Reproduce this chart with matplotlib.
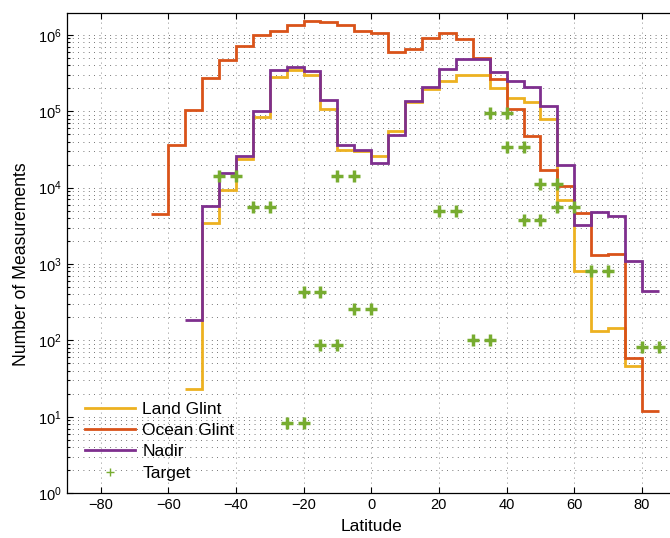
import matplotlib
matplotlib.use('Agg')
import numpy as np
from matplotlib import pyplot as plt
from matplotlib.lines import Line2D

# bin width of the latitude histogram (degrees)
bin_width = 5

# Ocean Glint: bins starting at -65
ocean_start = -65
ocean_counts = [4.5e3, 3.6e4, 1.05e5, 2.7e5, 4.6e5, 7.1e5, 9.8e5, 1.13e6, 1.35e6, 1.5e6,
                1.45e6, 1.32e6, 1.11e6, 1.04e6, 5.9e5, 6.5e5, 9.1e5, 1.04e6, 8.7e5, 5.0e5,
                2.6e5, 1.08e5, 4.7e4, 1.7e4, 1.05e4, 4.7e3, 1.3e3, 1.35e3, 59, 12]

# Land Glint: bins starting at -55
land_start = -55
land_counts = [23, 3.4e3, 9.4e3, 2.4e4, 8.5e4, 2.8e5, 3.5e5, 3.0e5, 1.08e5, 3.1e4,
               3.05e4, 2.6e4, 5.5e4, 1.3e5, 1.95e5, 2.5e5, 2.95e5, 3.0e5, 2.0e5, 1.5e5,
               1.3e5, 7.9e4, 6.9e3, 800, 134, 144, 46]

# Nadir: bins starting at -55
nadir_start = -55
nadir_counts = [185, 5.8e3, 1.55e4, 2.6e4, 1.0e5, 3.45e5, 3.8e5, 3.4e5, 1.4e5, 3.6e4,
                3.1e4, 2.1e4, 4.8e4, 1.35e5, 2.1e5, 3.6e5, 4.8e5, 4.8e5, 3.25e5, 2.5e5,
                2.1e5, 1.15e5, 2.0e4, 3.2e3, 4.8e3, 4.2e3, 1.1e3, 445]

# Target: non-empty bins only (bin start latitude, count)
target_lat = [-45, -35, -25, -20, -15, -10, -5, 20, 30, 35, 40, 45, 50, 55, 65, 80]
target_counts = [1.4e4, 5.5e3, 8.3, 435, 87, 1.43e4, 260, 5.0e3, 102, 9.4e4,
                 3.4e4, 3.8e3, 1.1e4, 5.6e3, 800, 83]

x_ticks = [-80, -60, -40, -20, 0, 20, 40, 60, 80]

c_land = '#EDB120'
c_ocean = '#D95319'
c_nadir = '#7E2F8E'
c_target = '#77AC30'


def edges(start, counts):
	return start + bin_width * np.arange(len(counts) + 1)


def main():
	plt.rcParams['font.family'] = ['Liberation Sans', 'DejaVu Sans']
	plt.rcParams['mathtext.default'] = 'regular'

	fig = plt.figure(figsize=(6.7, 5.38), dpi=100)
	ax = fig.add_axes([0.0996, 0.0831, 0.909, 0.892])

	lw = 2.0
	ax.stairs(land_counts, edges(land_start, land_counts), baseline=None, color=c_land, lw=lw, zorder=3)
	ax.stairs(ocean_counts, edges(ocean_start, ocean_counts), baseline=None, color=c_ocean, lw=lw, zorder=3)
	ax.stairs(nadir_counts, edges(nadir_start, nadir_counts), baseline=None, color=c_nadir, lw=lw, zorder=3)

	# target markers at both edges of each non-empty bin
	tx = np.concatenate([np.array(target_lat), np.array(target_lat) + bin_width])
	ty = np.concatenate([target_counts, target_counts])
	ax.plot(tx, ty, linestyle='none', marker='+', ms=8, mew=2.5, color=c_target, zorder=4)

	ax.set_yscale('log')
	ax.set_xlim(-90, 90)
	ax.set_ylim(1, 1.9e6)
	ax.set_xticks(x_ticks)
	ax.set_yticks([10.0 ** k for k in range(7)])

	ax.grid(True, which='major', axis='x', linestyle=(0, (1, 5)), color='0.4', lw=0.6)
	ax.grid(True, which='both', axis='y', linestyle=(0, (1, 6)), color='0.15', lw=0.55)
	ax.set_axisbelow(True)

	ax.tick_params(which='both', direction='in', top=True, right=True, labelsize=10.5, width=0.8)
	ax.tick_params(which='major', length=4)
	ax.tick_params(which='minor', length=2)
	ax.tick_params(axis='x', which='minor', bottom=False, top=False)
	for s in ax.spines.values():
		s.set_linewidth(0.9)

	ax.set_xlabel('Latitude', fontsize=12.5, labelpad=5)
	ax.set_ylabel('Number of Measurements', fontsize=12.7)
	ax.yaxis.set_label_coords(-0.061, 0.477)

	handles = [
		Line2D([], [], color=c_land, lw=lw),
		Line2D([], [], color=c_ocean, lw=lw),
		Line2D([], [], color=c_nadir, lw=lw),
		Line2D([], [], color=c_target, linestyle='none', marker='+', ms=6, mew=1),
	]
	ax.legend(handles, ['Land Glint', 'Ocean Glint', 'Nadir', 'Target'],
		loc='lower left', bbox_to_anchor=(0.03, 0.026), frameon=False, fontsize=12.5,
		handlelength=2.9, handletextpad=0.4, labelspacing=0.36, borderpad=0, borderaxespad=0)

	plt.savefig('out.png', dpi=100)


if __name__ == "__main__":
	main()
